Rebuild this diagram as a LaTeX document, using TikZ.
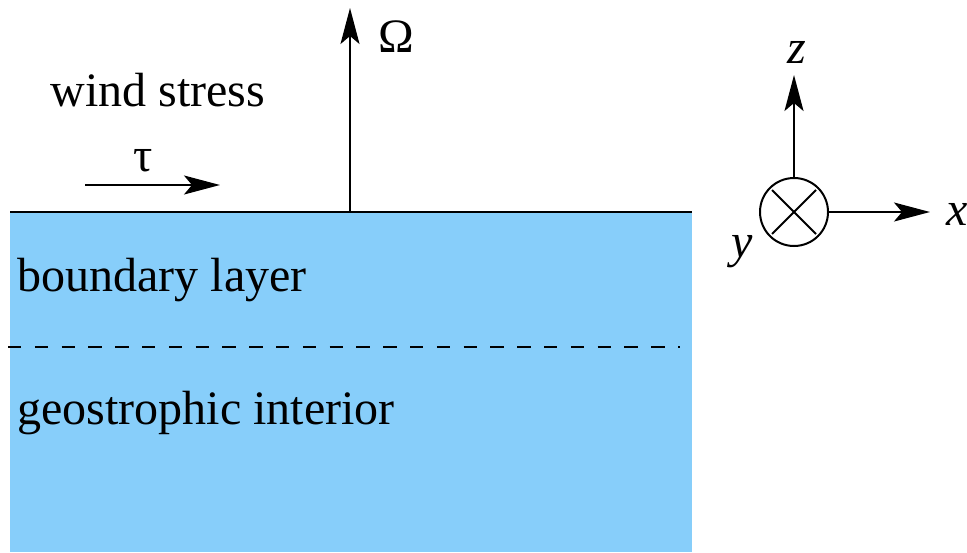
\documentclass[tikz,border=0pt]{standalone}
\usepackage{fontspec}
\setmainfont{Liberation Serif}
\usetikzlibrary{arrows.meta}
\definecolor{sea}{RGB}{135,206,250}
\begin{document}
\begin{tikzpicture}[x=0.5pt,y=-0.5pt,
  lbl/.style={inner sep=0pt,font=\rmfamily\fontsize{24}{28}\selectfont},
  arr/.style={line width=1pt,-{Stealth[length=18pt,width=9.5pt,inset=4pt]}},
  thin/.style={line width=1pt}]
\useasboundingbox (0,0) rectangle (967,552);
\fill[sea] (10,212) rectangle (692,552);
\coordinate (sl) at (10,212);
\coordinate (sr) at (692,212);
\draw[thin] (sl) -- (sr);
\coordinate (dl) at (8,347);
\coordinate (dr) at (680,347);
\draw[thin,dash pattern=on 6.7pt off 6.7pt] (dl) -- (dr);
% Omega
\coordinate (o0) at (350,212);
\coordinate (o1) at (350,8);
\draw[arr] (o0) -- (o1);
\node[lbl] (om) at (396,37) {Ω};
% tau
\coordinate (t0) at (85,185);
\coordinate (t1) at (220,185);
\draw[arr] (t0) -- (t1);
\node[lbl] (tau) at (143,161) {τ};
\node[lbl] (ws) at (158,90) {wind stress};
\node[lbl,anchor=west] (bl) at (17,280) {boundary layer};
\node[lbl,anchor=west] (gi) at (17,413) {geostrophic interior};
% axes
\node[draw,circle,line width=1pt,minimum size=34pt,inner sep=0pt] (c) at (794,212) {};
\draw[line width=1pt] (c.center) ++(-22,-22) -- ++(44,44);
\draw[line width=1pt] (c.center) ++(22,-22) -- ++(-44,44);
\coordinate (zt) at (794,75);
\coordinate (xt) at (930,212);
\draw[arr] (c.north) -- (zt);
\draw[arr] (c.east) -- (xt);
\node[lbl] (zl) at (797,52) {\textit{z}};
\node[lbl] (xl) at (957,214) {\textit{x}};
\node[lbl] (yl) at (742,252) {\textit{y}};
\end{tikzpicture}
\end{document}
